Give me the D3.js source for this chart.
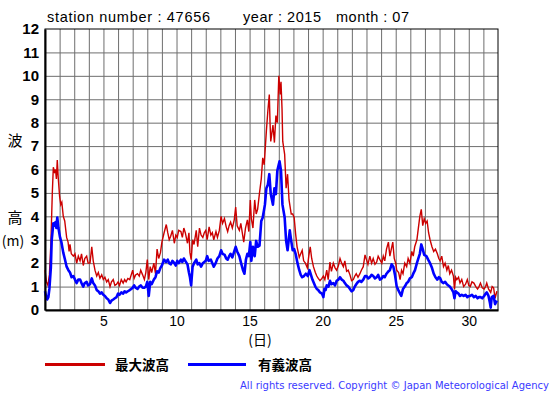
<!DOCTYPE html>
<html>
<head>
<meta charset="utf-8">
<script src="https://cdn.jsdelivr.net/npm/d3@7"></script>
<style>
  body { margin: 0; background: #fff; }
  svg { display: block; font-family: "Liberation Sans", Arial, sans-serif; }
</style>
</head>
<body>
<svg width="555" height="395"></svg>
<script>
// Wave heights, station 47656, July 2015 ([day, metres])
const maxWave = [
  [1.0,1.7],[1.1,1.2],[1.2,1.05],[1.3,1.5],[1.4,2.8],[1.5,5.0],[1.57,6.1],[1.65,5.9],[1.72,6.0],[1.78,5.6],[1.84,6.4],[1.9,5.7],
  [2.0,4.85],[2.08,4.5],[2.15,4.6],[2.25,4.0],[2.35,3.8],[2.48,3.1],[2.58,2.9],[2.65,2.5],[2.71,2.8],[2.8,2.4],[2.94,2.3],
  [3.05,2.4],[3.17,2.0],[3.28,2.3],[3.4,2.1],[3.5,2.4],[3.62,1.9],[3.72,2.2],[3.85,2.3],[3.95,2.0],
  [4.08,2.0],[4.2,2.7],[4.3,2.1],[4.42,1.7],[4.54,1.45],[4.65,1.6],[4.76,1.35],[4.88,1.5],[4.99,1.3],
  [5.1,1.4],[5.22,1.2],[5.33,1.3],[5.45,1.0],[5.55,1.2],[5.67,1.3],[5.78,1.05],[5.9,1.1],
  [6.0,1.2],[6.1,1.05],[6.22,1.3],[6.35,1.15],[6.45,1.3],[6.55,1.2],[6.67,1.35],[6.8,1.3],[6.9,1.5],
  [7.0,1.7],[7.1,1.35],[7.2,1.5],[7.33,1.55],[7.45,1.45],[7.55,1.7],[7.68,1.5],[7.8,1.3],[7.9,1.6],
  [8.0,2.15],[8.1,1.3],[8.2,1.85],[8.3,1.6],[8.45,2.0],[8.56,1.55],[8.67,2.6],[8.78,2.2],[8.9,2.45],
  [9.0,2.9],[9.15,3.3],[9.3,3.65],[9.4,3.3],[9.5,3.0],[9.6,3.15],[9.72,3.4],[9.85,2.85],[9.95,3.2],
  [10.05,3.1],[10.15,3.4],[10.3,3.35],[10.4,3.1],[10.5,3.5],[10.6,3.3],[10.75,2.85],[10.85,3.3],[10.92,2.45],
  [11.0,2.15],[11.1,3.0],[11.2,2.8],[11.35,3.4],[11.45,2.7],[11.57,3.5],[11.68,3.2],[11.8,3.1],[11.9,3.3],
  [12.0,3.4],[12.1,3.0],[12.23,3.55],[12.35,3.2],[12.45,3.3],[12.55,3.0],[12.7,3.35],[12.8,3.1],[12.93,3.4],
  [13.05,4.0],[13.15,3.7],[13.28,3.9],[13.4,3.55],[13.5,3.35],[13.6,3.6],[13.7,3.75],[13.82,3.5],[13.95,3.85],
  [14.05,4.4],[14.15,3.6],[14.3,3.4],[14.4,3.7],[14.5,3.3],[14.6,2.9],[14.72,3.5],[14.85,3.85],[14.95,3.35],
  [15.05,4.7],[15.12,3.9],[15.23,3.5],[15.35,4.7],[15.45,4.1],[15.55,4.3],[15.68,5.0],[15.8,5.6],[15.9,6.5],
  [16.0,6.2],[16.15,7.65],[16.25,8.5],[16.35,9.2],[16.4,8.0],[16.45,7.2],[16.6,7.9],[16.7,7.15],[16.8,8.3],[16.9,8.0],
  [17.0,10.0],[17.1,9.2],[17.15,9.75],[17.22,8.6],[17.27,7.2],[17.4,6.65],[17.5,5.2],[17.6,5.8],[17.7,4.7],[17.85,4.1],[17.95,4.1],
  [18.05,3.95],[18.15,3.25],[18.25,2.7],[18.4,2.25],[18.5,2.4],[18.6,2.55],[18.7,2.1],[18.82,2.0],[18.95,1.8],
  [19.05,2.3],[19.15,2.7],[19.25,2.2],[19.37,1.85],[19.5,1.6],[19.6,1.45],[19.7,1.35],[19.82,1.25],[19.95,1.35],
  [20.05,1.45],[20.15,1.3],[20.28,1.7],[20.38,1.3],[20.5,2.05],[20.6,1.65],[20.73,2.0],[20.85,1.8],[20.96,1.7],
  [21.08,1.9],[21.19,2.2],[21.3,2.0],[21.42,1.85],[21.52,2.1],[21.64,1.65],[21.75,1.7],[21.87,1.5],[21.98,1.25],
  [22.1,1.3],[22.2,1.45],[22.3,1.55],[22.42,1.4],[22.55,1.55],[22.65,1.7],[22.78,1.85],[22.9,2.35],
  [23.0,2.15],[23.1,1.95],[23.23,2.3],[23.35,2.0],[23.46,2.2],[23.58,1.95],[23.7,2.05],[23.8,2.3],[23.92,2.15],
  [24.05,2.0],[24.15,2.3],[24.25,2.1],[24.37,2.6],[24.5,2.9],[24.6,2.3],[24.7,2.6],[24.8,2.9],[24.9,2.2],
  [25.0,2.0],[25.07,1.7],[25.2,1.6],[25.3,1.3],[25.4,1.7],[25.5,1.55],[25.62,2.0],[25.75,1.85],[25.85,2.2],[25.97,2.0],
  [26.1,2.5],[26.2,2.3],[26.3,2.7],[26.45,3.0],[26.55,3.5],[26.65,4.0],[26.75,4.3],[26.85,3.6],[26.95,3.9],
  [27.05,3.7],[27.15,3.8],[27.25,3.3],[27.35,3.0],[27.48,2.7],[27.6,2.5],[27.72,2.6],[27.85,2.4],[27.95,2.2],
  [28.04,2.1],[28.15,2.3],[28.27,1.85],[28.38,2.0],[28.5,1.7],[28.6,1.9],[28.7,1.55],[28.82,1.7],[28.95,1.45],
  [29.02,0.9],[29.1,1.4],[29.18,1.3],[29.3,1.4],[29.4,1.15],[29.52,1.3],[29.65,1.0],[29.78,1.1],[29.9,1.3],
  [30.0,1.05],[30.1,1.0],[30.22,1.2],[30.35,1.15],[30.48,1.0],[30.6,0.9],[30.7,1.0],[30.8,1.15],[30.92,0.95],
  [31.05,0.9],[31.15,1.0],[31.23,1.15],[31.35,0.9],[31.5,0.75],[31.6,1.0],[31.7,0.95],[31.8,0.5],[31.92,0.8]
];

const sigWave = [
  [1.0,0.8],[1.07,0.6],[1.15,0.45],[1.23,0.55],[1.3,0.9],[1.4,1.8],[1.46,3.0],[1.57,3.7],[1.65,3.6],[1.72,3.75],[1.78,3.5],[1.84,3.95],[1.92,3.5],
  [2.03,3.1],[2.12,2.9],[2.25,2.45],[2.35,2.2],[2.48,1.85],[2.6,1.7],[2.71,1.6],[2.82,1.4],[2.94,1.45],
  [3.05,1.3],[3.17,1.15],[3.28,1.3],[3.4,1.3],[3.5,1.15],[3.62,1.0],[3.72,1.15],[3.85,1.2],[3.95,1.05],
  [4.08,1.1],[4.2,1.35],[4.3,1.15],[4.42,1.05],[4.54,0.85],[4.65,0.8],[4.76,0.7],[4.88,0.75],[4.99,0.65],
  [5.1,0.6],[5.22,0.5],[5.33,0.45],[5.45,0.3],[5.55,0.4],[5.67,0.45],[5.78,0.5],[5.9,0.55],
  [6.0,0.7],[6.1,0.65],[6.22,0.75],[6.35,0.7],[6.45,0.8],[6.55,0.75],[6.67,0.8],[6.8,0.85],[6.9,0.9],
  [7.0,0.95],[7.1,1.05],[7.2,0.95],[7.33,0.9],[7.45,1.0],[7.55,1.05],[7.68,0.95],[7.8,0.95],[7.9,1.0],
  [8.0,1.2],[8.1,0.6],[8.2,1.2],[8.3,1.1],[8.45,1.3],[8.56,1.4],[8.67,1.65],[8.78,1.6],[8.9,1.8],
  [9.0,1.9],[9.15,2.15],[9.28,2.05],[9.4,2.15],[9.5,2.0],[9.6,1.95],[9.72,2.1],[9.85,2.0],[9.95,1.9],
  [10.05,2.1],[10.15,2.0],[10.3,2.15],[10.4,2.05],[10.5,2.2],[10.6,2.1],[10.75,1.95],[10.85,1.6],[10.92,1.4],
  [11.0,1.05],[11.1,1.85],[11.2,2.0],[11.35,2.15],[11.45,1.95],[11.57,2.0],[11.68,1.85],[11.8,2.0],[11.9,2.05],
  [12.0,2.1],[12.1,2.3],[12.2,2.1],[12.35,2.15],[12.45,2.0],[12.55,1.85],[12.68,2.0],[12.8,2.2],[12.93,2.3],
  [13.05,2.55],[13.15,2.4],[13.3,2.35],[13.4,2.2],[13.5,2.15],[13.6,2.3],[13.7,2.4],[13.82,2.25],[13.95,2.5],
  [14.05,2.7],[14.15,2.5],[14.3,2.3],[14.42,2.0],[14.55,1.7],[14.65,1.55],[14.75,2.15],[14.85,2.4],[14.95,2.3],
  [15.05,2.9],[15.12,2.1],[15.23,2.7],[15.35,2.3],[15.45,2.95],[15.55,2.7],[15.68,2.75],[15.8,3.8],[15.9,3.95],
  [16.05,4.5],[16.15,5.2],[16.25,5.35],[16.35,5.8],[16.45,4.95],[16.6,4.5],[16.7,5.2],[16.8,4.95],[16.9,5.95],
  [17.05,6.35],[17.15,5.95],[17.25,4.5],[17.4,3.95],[17.5,2.95],[17.6,2.55],[17.75,3.4],[17.85,2.95],[17.95,2.55],
  [18.05,2.6],[18.15,2.4],[18.28,2.0],[18.4,1.7],[18.5,1.5],[18.6,1.4],[18.72,1.45],[18.85,1.55],[18.98,1.45],
  [19.1,1.7],[19.2,1.5],[19.3,1.3],[19.4,1.15],[19.5,1.0],[19.6,0.9],[19.7,0.85],[19.82,0.75],[19.95,0.7],
  [20.05,0.55],[20.12,0.9],[20.2,0.85],[20.28,1.05],[20.4,1.0],[20.5,1.25],[20.6,1.1],[20.73,1.15],[20.85,1.05],[20.96,1.25],
  [21.08,1.3],[21.19,1.4],[21.3,1.3],[21.42,1.25],[21.52,1.15],[21.64,1.05],[21.75,1.0],[21.87,0.9],[21.98,0.8],
  [22.1,0.85],[22.2,1.0],[22.3,1.1],[22.42,1.2],[22.55,1.25],[22.65,1.2],[22.78,1.3],[22.9,1.45],
  [23.0,1.45],[23.12,1.35],[23.23,1.4],[23.35,1.5],[23.46,1.45],[23.58,1.35],[23.7,1.4],[23.8,1.5],[23.92,1.3],
  [24.05,1.35],[24.15,1.45],[24.25,1.4],[24.37,1.55],[24.5,1.65],[24.6,1.7],[24.72,1.95],[24.84,1.85],[24.95,1.5],
  [25.07,1.0],[25.18,0.85],[25.3,0.7],[25.38,0.6],[25.5,0.9],[25.62,1.0],[25.75,1.15],[25.85,1.2],[25.97,1.35],
  [26.1,1.4],[26.2,1.55],[26.32,1.7],[26.45,2.0],[26.55,2.2],[26.65,2.4],[26.75,2.8],[26.85,2.6],[26.95,2.35],
  [27.1,2.3],[27.22,2.15],[27.35,2.0],[27.48,1.8],[27.6,1.55],[27.72,1.4],[27.85,1.3],[27.95,1.4],
  [28.05,1.35],[28.15,1.2],[28.27,1.15],[28.38,1.2],[28.5,1.1],[28.6,1.05],[28.7,1.0],[28.82,0.9],[28.95,0.75],
  [29.02,0.5],[29.1,0.8],[29.18,0.75],[29.3,0.7],[29.4,0.6],[29.52,0.65],[29.65,0.6],[29.78,0.65],[29.9,0.55],
  [30.0,0.6],[30.1,0.6],[30.22,0.65],[30.35,0.55],[30.48,0.6],[30.6,0.5],[30.7,0.55],[30.8,0.55],[30.92,0.5],
  [31.05,0.6],[31.15,0.7],[31.23,0.75],[31.35,0.6],[31.45,0.3],[31.5,0.1],[31.57,0.55],[31.7,0.6],[31.8,0.25],[31.92,0.4]
];

const dayTicks = [5, 10, 15, 20, 25, 30];
const heightTicks = d3.range(0, 13);

const svg = d3.select("svg");

// plot box
const margin = {left: 45, top: 29, right: 57, bottom: 85};
const width = 555 - margin.left - margin.right;
const height = 395 - margin.top - margin.bottom;

const x = d3.scaleLinear().domain([1, 32]).range([0, width]);
const y = d3.scaleLinear().domain([0, 12]).range([height, 0]);

const graph = svg.append("g")
  .attr("transform", `translate(${margin.left},${margin.top})`);

// grid lines, one per day and per metre
graph.append("g")
  .attr("transform", `translate(0,${height})`)
  .call(d3.axisBottom(x).tickValues(d3.range(2, 32)).tickSize(-height).tickFormat(""))
  .call(g => g.select(".domain").remove())
  .selectAll("line").attr("stroke", "#6e6e6e");

graph.append("g")
  .call(d3.axisLeft(y).tickValues(d3.range(1, 12)).tickSize(-width).tickFormat(""))
  .call(g => g.select(".domain").remove())
  .selectAll("line").attr("stroke", "#6e6e6e");

// frame
graph.append("rect")
  .attr("width", width).attr("height", height)
  .attr("fill", "none").attr("stroke", "#000").attr("stroke-width", 1);

// lines
const line = d3.line().x(d => x(d[0])).y(d => y(d[1]));

graph.append("path").datum(maxWave)
  .attr("fill", "none").attr("stroke", "#cc0000").attr("stroke-width", 1.4)
  .attr("d", line);

graph.append("path").datum(sigWave)
  .attr("fill", "none").attr("stroke", "#0000ff").attr("stroke-width", 2.6)
  .attr("stroke-linejoin", "round")
  .attr("d", line);

// axes
const xAxis = graph.append("g")
  .attr("transform", `translate(0,${height})`)
  .call(d3.axisBottom(x).tickValues(dayTicks).tickSize(0).tickPadding(6));
xAxis.select(".domain").attr("stroke", "#000").attr("stroke-width", 2);
xAxis.selectAll("text").attr("font-size", 14).attr("font-family", "Liberation Sans").attr("fill", "#000");

const yAxis = graph.append("g")
  .call(d3.axisLeft(y).tickValues(heightTicks).tickSize(0).tickPadding(6));
yAxis.select(".domain").attr("stroke", "#000").attr("stroke-width", 2);
yAxis.selectAll("text").attr("font-size", 15).attr("font-weight", "bold")
  .attr("font-family", "Liberation Sans").attr("fill", "#000");

// titles
const title = svg.append("g").attr("font-size", 14.5).attr("fill", "#000");
title.append("text").attr("x", 47).attr("y", 22).attr("textLength", 163).text("station number : 47656");
title.append("text").attr("x", 243).attr("y", 22).attr("textLength", 78).text("year : 2015");
title.append("text").attr("x", 336).attr("y", 22).attr("textLength", 73).text("month : 07");

const cjk = "'Noto Sans CJK JP', sans-serif";
svg.append("text").attr("x", 15).attr("y", 146).attr("text-anchor", "middle")
  .attr("font-size", 15).attr("font-family", cjk).text("波");
svg.append("text").attr("x", 15).attr("y", 223).attr("text-anchor", "middle")
  .attr("font-size", 15).attr("font-family", cjk).text("高");
svg.append("text").attr("x", 13).attr("y", 246).attr("text-anchor", "middle")
  .attr("font-size", 14).attr("font-family", cjk).text("(m)");
svg.append("text").attr("x", 260).attr("y", 345).attr("text-anchor", "middle")
  .attr("font-size", 14).attr("font-family", cjk).text("(日)");

// legend
const legend = svg.append("g");
legend.append("line").attr("x1", 45).attr("x2", 105).attr("y1", 364.5).attr("y2", 364.5)
  .attr("stroke", "#cc0000").attr("stroke-width", 3);
legend.append("text").attr("x", 115).attr("y", 370).attr("font-size", 13.5).attr("font-weight", "bold")
  .attr("font-family", cjk).text("最大波高");
legend.append("line").attr("x1", 188).attr("x2", 246).attr("y1", 364.5).attr("y2", 364.5)
  .attr("stroke", "#0000ff").attr("stroke-width", 3);
legend.append("text").attr("x", 258).attr("y", 370).attr("font-size", 13.5).attr("font-weight", "bold")
  .attr("font-family", cjk).text("有義波高");

svg.append("text").attr("x", 240).attr("y", 389).attr("font-size", 10)
  .attr("font-family", "DejaVu Sans").attr("fill", "#3a3aff")
  .attr("textLength", 309).attr("lengthAdjust", "spacing")
  .text("All rights reserved. Copyright © Japan Meteorological Agency");
</script>
</body>
</html>
